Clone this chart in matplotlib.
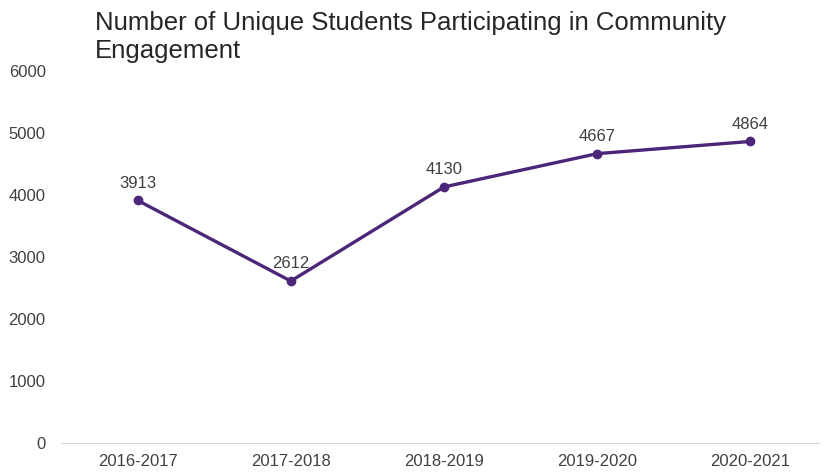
import matplotlib.pyplot as plt
from matplotlib import font_manager

# Community engagement participation by academic year
years = ['2016-2017', '2017-2018', '2018-2019', '2019-2020', '2020-2021']
students = [3913, 2612, 4130, 4667, 4864]

line_color = '#4B2679'
text_color = '#404040'

names = {f.name for f in font_manager.fontManager.ttflist}
family = 'Liberation Sans Narrow' if 'Liberation Sans Narrow' in names else 'Liberation Sans'
plt.rcParams['font.family'] = family

fig = plt.figure(figsize=(8.27, 4.74), dpi=100)
ax = fig.add_axes([61 / 827, 31 / 474, 766 / 827, 372 / 474])

x = list(range(len(years)))
ax.plot(x, students, color=line_color, lw=2.4, marker='o', markersize=6, solid_capstyle='round')

# Value labels above each point
for xi, v in zip(x, students):
    ax.annotate(f'{v}', (xi, v), xytext=(0, 7), textcoords='offset points',
                ha='center', va='bottom', fontsize=12, color=text_color)

ax.set_xlim(-0.5, len(years) - 0.5)
ax.set_ylim(0, 6000)
ax.set_yticks(range(0, 6001, 1000))
ax.set_xticks(x)
ax.set_xticklabels(years)

for side in ['top', 'right', 'left']:
    ax.spines[side].set_visible(False)
ax.spines['bottom'].set_color('#d9d9d9')
ax.spines['bottom'].set_bounds(-0.5, 4.45)
ax.tick_params(axis='both', length=0, labelsize=12, colors=text_color)
ax.tick_params(axis='x', pad=8)
ax.tick_params(axis='y', pad=11)

fig.text(95 / 827, 1 - 11 / 474, 'Number of Unique Students Participating in Community\nEngagement',
         ha='left', va='top', fontsize=18.5, color='#262626', linespacing=1.2)

fig.savefig('out.png', dpi=100)
